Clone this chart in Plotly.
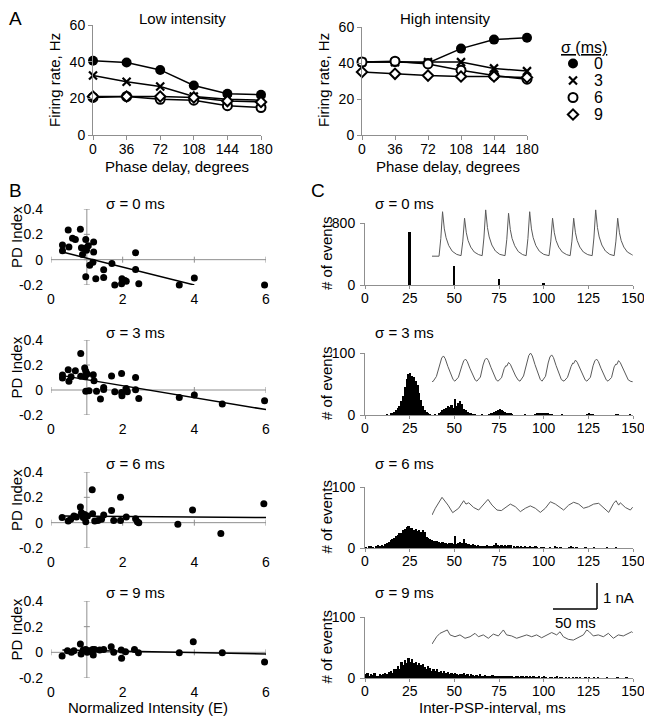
import plotly.graph_objects as go

# the page body has an 8 px margin, so the figure starts 8 px in from the window's corner
PAGE_W, PAGE_H, OFF = 652, 719, 8
W, H = PAGE_W - OFF, PAGE_H - OFF
FONT = "Liberation Sans, Arial, sans-serif"
GRAY = "#8f8f8f"
TRACE_GRAY = "#5a5a5a"

# ---------------- panel A: firing rate vs phase delay
phase = [0, 36, 72, 108, 144, 180]
sigmas = ["0", "3", "6", "9"]
low_rates = {
    "0": [40.5, 39.5, 35.5, 27, 22.5, 22],
    "3": [32.5, 29, 26.5, 21, 19.5, 19],
    "6": [20.5, 21, 19.5, 19, 16, 15],
    "9": [21, 21, 21, 20.5, 18.5, 18],
}
high_rates = {
    "0": [40.5, 40.5, 40, 48, 53, 54],
    "3": [40.5, 40.5, 40.5, 40.5, 37, 35.5],
    "6": [40.5, 41, 39.5, 36, 33, 31],
    "9": [35, 34, 33, 32.5, 32.5, 32],
}

# ---------------- panel B: PD index vs normalized intensity
b0_x = [0.32, 0.32, 0.48, 0.5, 0.6, 0.68, 0.82, 0.85, 0.88, 0.97, 0.94, 0.99, 1.04, 1.19, 1.19,
        1.08, 1.17, 0.97, 1.25, 1.47, 1.47, 1.7, 1.78, 1.98, 1.97, 2.06, 2.1, 2.36, 2.36, 2.45,
        3.58, 4.0, 5.96]
b0_y = [0.115, 0.07, 0.235, 0.1, 0.17, 0.16, 0.24, 0.095, 0.04, 0.16, 0.09, 0.075, 0.11, 0.14, 0.06,
        -0.045, -0.02, -0.135, -0.15, -0.08, -0.14, -0.03, -0.2, -0.15, -0.19, -0.165, -0.17, 0.055,
        -0.077, -0.19, -0.2, -0.145, -0.2]
b0_fit_x = [0.32, 4.0]
b0_fit_y = [0.06, -0.2]

b3_x = [0.32, 0.32, 0.48, 0.5, 0.56, 0.68, 0.83, 0.83, 0.94, 0.97, 0.95, 1.01, 0.97, 1.06, 1.18,
        1.2, 1.27, 1.38, 1.47, 1.47, 1.69, 1.78, 1.97, 1.97, 1.98, 2.1, 2.13, 2.36, 2.36, 2.45,
        3.58, 4.0, 4.78, 5.96]
b3_y = [0.12, 0.096, 0.163, 0.07, 0.107, 0.155, 0.293, 0.11, 0.176, 0.15, 0.107, 0.128, -0.01,
        -0.005, 0.123, 0.075, -0.01, -0.072, 0.02, 0.005, 0.112, -0.013, 0.133, -0.02, -0.045,
        0.013, -0.013, 0.1, 0.003, -0.067, -0.06, -0.04, -0.112, -0.085]
b3_fit_x = [0.32, 6.0]
b3_fit_y = [0.115, -0.157]

b6_x = [0.31, 0.48, 0.55, 0.64, 0.71, 0.82, 0.85, 0.9, 0.94, 0.97, 1.02, 1.15, 1.16, 1.22, 1.31,
        1.41, 1.47, 1.69, 1.75, 1.94, 1.94, 2.1, 2.36, 2.41, 2.45, 3.54, 3.95, 4.74, 5.94]
b6_y = [0.04, 0.013, 0.026, 0.052, 0.045, 0.123, 0.078, 0.04, 0.065, 0.008, 0.052, 0.26, 0.07,
        0.013, 0.018, 0.026, 0.06, 0.097, 0.018, 0.2, 0.018, 0.044, 0.031, 0.008, 0.0, -0.013,
        0.1, -0.086, 0.149]
b6_fit_x = [0.32, 6.0]
b6_fit_y = [0.052, 0.04]

b9_x = [0.31, 0.46, 0.57, 0.64, 0.82, 0.84, 0.9, 0.97, 1.01, 1.06, 1.16, 1.18, 1.22, 1.36, 1.47,
        1.68, 1.75, 1.96, 1.97, 2.08, 2.33, 2.44, 3.58, 3.97, 4.78, 5.96]
b9_y = [-0.028, 0.013, 0.0, 0.013, 0.065, -0.013, 0.018, 0.023, 0.0, 0.013, 0.023, -0.02, 0.023,
        0.018, 0.023, 0.044, 0.0, 0.018, -0.046, 0.005, 0.023, -0.003, -0.003, 0.083, -0.003, -0.075]
b9_fit_x = [0.32, 6.0]
b9_fit_y = [0.018, -0.013]

# ---------------- panel C: inter-PSP-interval histograms (1 ms bins)
c0_bins = [25, 50, 75, 100]
c0_counts = [690, 245, 75, 25]

c3_counts = [0, 0, 0, 0, 0, 0, 0, 0, 0, 0,
             0, 0, 1, 0, 2, 4, 5, 8, 12, 15,
             22, 30, 45, 58, 66, 67, 63, 62, 55, 48,
             36, 24, 14, 8, 5, 2, 1, 0, 0, 1,
             0, 2, 5, 8, 10, 12, 14, 13, 16, 12,
             26, 14, 19, 22, 17, 10, 8, 5, 3, 2,
             1, 1, 0, 0, 0, 1, 0, 0, 0, 1,
             2, 3, 5, 6, 8, 9, 8, 7, 5, 4,
             3, 2, 1, 0, 0, 0, 0, 0, 0, 1,
             0, 0, 0, 0, 0, 1, 2, 3, 2, 4,
             3, 4, 2, 1, 1, 0, 0, 0, 0, 0,
             1, 0, 0, 0, 0, 0, 0, 0, 0, 0,
             0, 0, 0, 0, 1, 2, 1, 1, 0, 0,
             0, 0, 0, 0, 0, 0, 0, 0, 0, 0,
             1, 1, 0, 0, 0, 0, 0, 0, 1, 0]

c6_counts = [1, 0, 2, 3, 1, 0, 4, 5, 4, 5,
             4, 6, 8, 10, 13, 14, 17, 20, 22, 25,
             24, 29, 31, 34, 36, 33, 32, 30, 31, 28,
             30, 26, 29, 27, 18, 16, 14, 13, 12, 11,
             12, 10, 9, 10, 8, 9, 7, 8, 9, 7,
             19, 6, 8, 10, 9, 15, 8, 7, 6, 5,
             6, 5, 4, 5, 3, 4, 3, 4, 5, 3,
             4, 3, 5, 8, 5, 4, 5, 4, 5, 4,
             5, 5, 0, 2, 1, 2, 1, 2, 1, 2,
             1, 1, 2, 1, 1, 2, 1, 0, 1, 1,
             1, 0, 0, 1, 0, 0, 2, 1, 0, 1,
             0, 0, 0, 0, 1, 2, 1, 0, 1, 0,
             0, 0, 0, 1, 0, 0, 0, 0, 1, 0,
             0, 0, 0, 0, 0, 1, 0, 0, 0, 0,
             1, 0, 0, 0, 0, 0, 0, 0, 0, 0]

c9_counts = [6, 8, 3, 7, 5, 8, 4, 3, 6, 5,
             7, 9, 6, 10, 12, 9, 14, 15, 19, 14,
             26, 22, 30, 25, 33, 27, 31, 25, 26, 22,
             24, 21, 23, 18, 15, 19, 17, 12, 15, 11,
             14, 10, 12, 9, 11, 8, 10, 7, 9, 6,
             8, 7, 5, 7, 6, 8, 5, 6, 4, 6,
             5, 3, 5, 4, 6, 3, 4, 5, 3, 4,
             2, 5, 3, 4, 2, 3, 4, 2, 3, 2,
             4, 2, 3, 1, 2, 3, 1, 2, 2, 1,
             3, 1, 2, 1, 2, 1, 1, 2, 0, 1,
             2, 1, 0, 1, 1, 0, 1, 2, 0, 1,
             1, 0, 1, 0, 1, 0, 1, 0, 1, 0,
             1, 0, 0, 1, 0, 1, 0, 0, 1, 0,
             1, 0, 0, 0, 0, 1, 0, 0, 0, 0,
             0, 1, 0, 0, 0, 0, 1, 0, 0, 0]
bin_centers = [i + 0.5 for i in range(150)]

# inset current traces (ms, nA above baseline)
c0_t = [0, 8, 10, 12, 14, 16, 19, 23, 28, 33, 35, 37, 39, 41, 44, 48, 53, 57, 59, 61, 63, 65, 68,
        72, 77, 83, 85, 87, 89, 91, 94, 98, 103, 107, 109, 111, 113, 115, 118, 122, 127, 133, 135,
        137, 139, 141, 144, 148, 153, 157, 159, 161, 163, 165, 168, 172, 177, 182, 184, 186, 188,
        190, 193, 197, 202, 207, 209, 211, 213, 215, 218, 222, 227, 228]
c0_v = [0.02, 0.02, 0.7, 1.73, 1.07, 0.73, 0.43, 0.21, 0.09, 0.04, 0.6, 1.48, 0.92, 0.62, 0.37,
        0.18, 0.08, 0.04, 0.72, 1.80, 1.12, 0.76, 0.45, 0.22, 0.09, 0.04, 0.67, 1.67, 1.04, 0.70,
        0.42, 0.20, 0.08, 0.04, 0.70, 1.73, 1.07, 0.73, 0.43, 0.21, 0.09, 0.04, 0.60, 1.48, 0.92,
        0.62, 0.37, 0.18, 0.08, 0.04, 0.60, 1.48, 0.92, 0.62, 0.37, 0.18, 0.08, 0.04, 0.72, 1.80,
        1.12, 0.76, 0.45, 0.22, 0.09, 0.04, 0.60, 1.48, 0.92, 0.62, 0.37, 0.18, 0.08, 0.06]

c3_t = [0, 1, 5, 9, 11, 13, 15, 18, 21, 24,
        26, 30, 34, 36, 38, 40, 43, 46, 49,
        51, 55, 58, 60, 62, 64, 67, 70, 73,
        75, 79, 82, 84, 85, 87, 89, 92, 95, 98,
        100, 104, 108, 110, 112, 114, 117, 120, 123,
        125, 129, 132, 134, 136, 138, 141, 144, 147,
        150, 154, 158, 160, 161, 163, 165, 168, 171, 174,
        176, 180, 183, 185, 187, 189, 192, 195, 198,
        200, 204, 207, 209, 210, 212, 214, 217, 220, 223, 226, 228]
c3_v = [0.02, 0, 0.2, 0.69, 0.91, 0.99, 0.89, 0.59, 0.3, 0.08,
        0.02, 0.17, 0.61, 0.8, 0.87, 0.78, 0.52, 0.26, 0.07,
        0.02, 0.18, 0.64, 0.84, 0.91, 0.82, 0.55, 0.27, 0.07,
        0.02, 0.15, 0.5, 0.62, 0.6, 0.74, 0.67, 0.44, 0.22, 0.06,
        0.02, 0.22, 0.77, 1.01, 1.10, 0.99, 0.66, 0.33, 0.09,
        0.02, 0.21, 0.72, 0.95, 1.03, 0.93, 0.62, 0.31, 0.08,
        0.02, 0.17, 0.58, 0.72, 0.7, 0.83, 0.75, 0.5, 0.25, 0.07,
        0.02, 0.17, 0.61, 0.8, 0.87, 0.78, 0.52, 0.26, 0.07,
        0.02, 0.16, 0.57, 0.68, 0.66, 0.81, 0.73, 0.49, 0.24, 0.07, 0.01, 0.0]

c6_t = [0, 3.8, 11.4, 18.2, 23.5, 30.3, 36.0, 38.6, 41.7, 47.3, 53.0, 58.7, 63.6, 68.2, 73.9,
        78.8, 83.3, 89.0, 94.7, 100.4, 106.1, 111.7, 117.4, 123.1, 128.8, 134.5, 140.2, 143.9,
        149.6, 155.3, 161.0, 166.7, 172.3, 178.0, 183.7, 189.4, 195.1, 200.8, 206.4, 209.1,
        212.1, 214.0, 219.7, 225.4, 228]
c6_v = [0, 0.26, 0.68, 0.38, 0.09, 0.26, 0.55, 0.42, 0.47, 0.29, 0.19, 0.42, 0.60, 0.38, 0.19,
        0.17, 0.29, 0.42, 0.32, 0.13, 0.26, 0.35, 0.26, 0.10, 0.26, 0.51, 0.42, 0.32, 0.19, 0.38,
        0.49, 0.42, 0.26, 0.32, 0.42, 0.45, 0.26, 0.10, 0.45, 0.55, 0.38, 0.47, 0.29, 0.19, 0.30]

c9_t = [0, 5.3, 9.1, 14.8, 17.4, 20.5, 26.1, 31.8, 37.5, 43.2, 48.9, 52.7, 58.3, 64.0, 69.7,
        75.4, 81.1, 84.8, 90.5, 96.2, 101.9, 107.6, 113.3, 118.9, 124.6, 130.3, 136.0, 141.7,
        145.5, 149.2, 154.9, 160.6, 166.3, 172.0, 175.8, 178.8, 183.3, 189.0, 194.7, 200.4,
        206.1, 211.7, 217.4, 223.1, 226.9, 228]
c9_v = [0, 0.28, 0.41, 0.50, 0.54, 0.35, 0.28, 0.35, 0.22, 0.28, 0.41, 0.28, 0.35, 0.22, 0.38,
        0.31, 0.54, 0.35, 0.31, 0.22, 0.28, 0.35, 0.28, 0.35, 0.24, 0.35, 0.44, 0.35, 0.47, 0.28,
        0.18, 0.15, 0.26, 0.35, 0.54, 0.47, 0.31, 0.35, 0.28, 0.41, 0.22, 0.35, 0.31, 0.41, 0.47,
        0.44]

SCALE_MS = 50
SCALE_NA = 1


# positions below are given in window pixels and converted to paper fractions
def px(x):
    return (x - OFF) / W


def py(y):
    return 1 - (y - OFF) / H


def dx(a, b):
    return [px(a), px(b)]


def dy(top, bottom):
    return [py(bottom), py(top)]


def names(n):
    s = "" if n == 1 else str(n)
    return "x" + s, "y" + s, "xaxis" + s, "yaxis" + s


tickfont = dict(family=FONT, size=14, color="black")
TSIZE = 15
fig = go.Figure()
layout = {}
shapes = []
annotations = []

# ---- A
markers = {
    "0": dict(symbol="circle", size=10, color="black"),
    "3": dict(symbol="x-thin-open", size=8, color="black", line=dict(width=2.2, color="black")),
    "6": dict(symbol="circle", size=9, color="white", line=dict(width=2, color="black")),
    "9": dict(symbol="diamond", size=8, color="white", line=dict(width=2, color="black")),
}
for n, rates, xd, yd in [(1, low_rates, (93, 261), (25, 135)), (2, high_rates, (362, 527), (27, 135))]:
    xr, yr, xa, ya = names(n)
    for s in sigmas:
        fig.add_trace(go.Scatter(x=phase, y=rates[s], mode="lines+markers", xaxis=xr, yaxis=yr,
                                 line=dict(color="black", width=1.5), marker=markers[s],
                                 cliponaxis=False))
    layout[xa] = dict(domain=dx(*xd), range=[0, 180], anchor=yr, tickvals=phase, ticks="outside",
                      ticklen=4, tickcolor=GRAY, showline=True, linecolor=GRAY, showgrid=False,
                      zeroline=False, ticklabelstandoff=-3, tickfont=tickfont)
    layout[ya] = dict(domain=dy(*yd), range=[0, 60], anchor=xr, tickvals=[0, 20, 40, 60],
                      ticks="outside", ticklen=4, tickcolor=GRAY, showline=True, linecolor=GRAY,
                      showgrid=False, zeroline=False, tickfont=tickfont)

# legend keys in their own small axes, one row per sigma
LEG = 15
lxr, lyr, lxa, lya = names(LEG)
for i, s in enumerate(sigmas):
    fig.add_trace(go.Scatter(x=[0], y=[i], mode="markers", marker=markers[s], xaxis=lxr, yaxis=lyr,
                             cliponaxis=False))
    annotations.append(dict(text=s, x=px(598), y=i, yref=lyr, font=dict(family=FONT, size=16)))
layout[lxa] = dict(domain=dx(563, 583), range=[-1, 1], anchor=lyr, visible=False)
layout[lya] = dict(domain=dy(55, 123), range=[len(sigmas) - 0.5, -0.5], anchor=lxr, visible=False)

# ---- B
b_panels = [
    (3, b0_x, b0_y, b0_fit_x, b0_fit_y, (209, 285), "σ = 0 ms", 203),
    (4, b3_x, b3_y, b3_fit_x, b3_fit_y, (340, 415), "σ = 3 ms", 332),
    (5, b6_x, b6_y, b6_fit_x, b6_fit_y, (472, 548), "σ = 6 ms", 463),
    (6, b9_x, b9_y, b9_fit_x, b9_fit_y, (601, 678), "σ = 9 ms", 592),
]
for n, bx, by, fx, fy, yd, title, ty in b_panels:
    xr, yr, xa, ya = names(n)
    fig.add_trace(go.Scatter(x=fx, y=fy, mode="lines", xaxis=xr, yaxis=yr,
                             line=dict(color="black", width=1.5)))
    fig.add_trace(go.Scatter(x=bx, y=by, mode="markers", xaxis=xr, yaxis=yr, cliponaxis=False,
                             marker=dict(color="black", size=7)))
    layout[xa] = dict(domain=dx(51, 266), range=[0, 6], anchor=yr, tickvals=[0, 2, 4, 6],
                      showline=False, showgrid=False, zeroline=False, ticks="",
                      ticklabelstandoff=4, tickfont=tickfont)
    layout[ya] = dict(domain=dy(*yd), range=[-0.2, 0.4], anchor=xr,
                      tickvals=[-0.2, 0, 0.2, 0.4], ticktext=["-0.2", "0", "0.2", "0.4"],
                      showline=False, showgrid=False, zeroline=False, ticks="",
                      ticklabelstandoff=7, tickfont=tickfont)
    ln = dict(color=GRAY, width=1)
    shapes.append(dict(type="line", xref=xr, yref=yr, x0=0, x1=6, y0=0, y1=0, line=ln, layer="below"))
    shapes.append(dict(type="line", xref=xr, yref=yr, x0=1, x1=1, y0=-0.2, y1=0.4, line=ln, layer="below"))
    for v in [0, 2, 4, 6]:
        shapes.append(dict(type="line", xref=xr, yref=yr, x0=v, x1=v, ysizemode="pixel", yanchor=0,
                           y0=-3, y1=3, line=ln, layer="below"))
    for v in [-0.2, 0, 0.2, 0.4]:
        shapes.append(dict(type="line", xref=xr, yref=yr, y0=v, y1=v, xsizemode="pixel", xanchor=1,
                           x0=-3, x1=3, line=ln, layer="below"))
    annotations.append(dict(text=title, x=px(136), y=py(ty), font=dict(family=FONT, size=TSIZE)))
    annotations.append(dict(text="PD Index", x=px(16), y=py((yd[0] + yd[1]) / 2 - 10),
                            textangle=-90, font=dict(family=FONT, size=TSIZE)))

# ---- C
c_panels = [
    (7, 11, c0_bins, c0_counts, 800, (223, 285), "σ = 0 ms", 203, c0_t, c0_v, (256.7, 200, 262)),
    (8, 12, bin_centers, c3_counts, 100, (353, 415), "σ = 3 ms", 332, c3_t, c3_v, (381.7, 345, 386)),
    (9, 13, bin_centers, c6_counts, 100, (487, 548), "σ = 6 ms", 463, c6_t, c6_v, (515, 490, 520)),
    (10, 14, bin_centers, c9_counts, 100, (617, 678), "σ = 9 ms", 592, c9_t, c9_v, (644, 575, 650)),
]
NA_PX = 26.0
MS_PX = 0.88
for n, ni, bins, counts, ymax, yd, title, ty, tt, tv, ins in c_panels:
    xr, yr, xa, ya = names(n)
    fig.add_trace(go.Bar(x=bins, y=counts, width=1, xaxis=xr, yaxis=yr, marker_color="black",
                         marker_line_width=0))
    layout[xa] = dict(domain=dx(365, 633), range=[0, 150], anchor=yr,
                      tickvals=[0, 25, 50, 75, 100, 125, 150], ticks="outside", ticklen=3,
                      tickcolor=GRAY, showline=True, linecolor=GRAY, showgrid=False,
                      zeroline=False, ticklabelstandoff=-3, ticklabeloverflow="allow",
                      tickfont=tickfont)
    layout[ya] = dict(domain=dy(*yd), range=[0, ymax], anchor=xr, tickvals=[0, ymax],
                      ticks="outside", ticklen=4, tickcolor=GRAY, showline=True, linecolor=GRAY,
                      showgrid=False, zeroline=False, ticklabelstandoff=2, tickfont=tickfont)
    annotations.append(dict(text=title, x=px(373), y=py(ty), xanchor="left",
                            font=dict(family=FONT, size=TSIZE)))
    annotations.append(dict(text="# of events", x=px(326), y=py((yd[0] + yd[1]) / 2),
                            textangle=-90, font=dict(family=FONT, size=TSIZE)))
    # inset trace
    ixr, iyr, ixa, iya = names(ni)
    base, top, bottom = ins
    fig.add_trace(go.Scatter(x=tt, y=tv, mode="lines", xaxis=ixr, yaxis=iyr,
                             line=dict(color=TRACE_GRAY, width=1)))
    layout[ixa] = dict(domain=dx(432, 633), range=[0, (633 - 432) / MS_PX], anchor=iyr,
                       visible=False)
    layout[iya] = dict(domain=dy(top, bottom), range=[(base - bottom) / NA_PX, (base - top) / NA_PX],
                       anchor=ixr, visible=False)

# scale bar in the last inset
sx0 = (553 - 432) / MS_PX
sy0 = (644 - 609) / NA_PX
bar = dict(color="black", width=1.5)
shapes.append(dict(type="line", xref="x14", yref="y14", x0=sx0, x1=sx0 + SCALE_MS, y0=sy0, y1=sy0, line=bar))
shapes.append(dict(type="line", xref="x14", yref="y14", x0=sx0 + SCALE_MS, x1=sx0 + SCALE_MS,
                   y0=sy0, y1=sy0 + SCALE_NA, line=bar))
annotations.append(dict(text=f"{SCALE_NA} nA", x=px(601), y=py(597), xanchor="left",
                        font=dict(family=FONT, size=TSIZE)))
annotations.append(dict(text=f"{SCALE_MS} ms", x=px(575), y=py(622), font=dict(family=FONT, size=TSIZE)))

# ---- other texts
for text, x, y, size, angle in [
    ("A", 16, 18, 19, 0), ("B", 16, 190, 19, 0), ("C", 318, 190, 19, 0),
    ("Low intensity", 182, 18, TSIZE, 0), ("High intensity", 445, 18, TSIZE, 0),
    ("Firing rate, Hz", 55, 80, TSIZE, -90), ("Firing rate, Hz", 324, 80, TSIZE, -90),
    ("Phase delay, degrees", 177, 166, TSIZE, 0), ("Phase delay, degrees", 448, 166, TSIZE, 0),
    ("Normalized Intensity (E)", 148, 707, TSIZE, 0), ("Inter-PSP-interval, ms", 493, 707, TSIZE, 0),
    ("<u>σ (ms)</u>", 584, 47, 16, 0),
]:
    annotations.append(dict(text=text, x=px(x), y=py(y), textangle=angle,
                            font=dict(family=FONT, size=size)))

for a in annotations:
    a.setdefault("xref", "paper")
    a.setdefault("yref", "paper")
    a["showarrow"] = False
    a.setdefault("xanchor", "center")
    a.setdefault("yanchor", "middle")
    a["font"]["color"] = "black"

fig.update_traces(showlegend=False)
fig.update_layout(
    template="none",
    width=W, height=H, margin=dict(l=0, r=0, t=0, b=0, pad=0, autoexpand=False),
    paper_bgcolor="white", plot_bgcolor="rgba(0,0,0,0)",
    font=dict(family=FONT, size=14, color="black"),
    showlegend=False, bargap=0,
    shapes=shapes, annotations=annotations, **layout,
)
fig.write_html("out.html")
